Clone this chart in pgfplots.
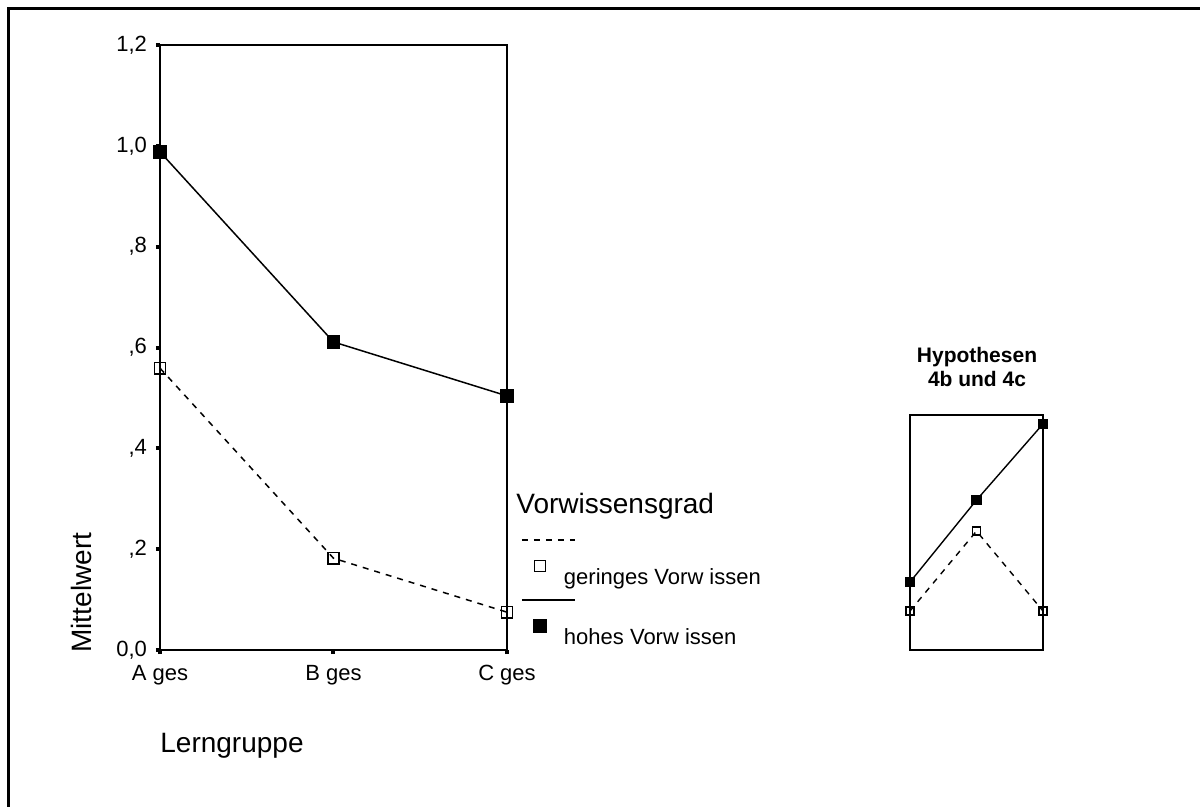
\documentclass[border=0pt]{standalone}
\usepackage{fontspec}
\setmainfont{Liberation Sans}
\usepackage{pgfplots}
\pgfplotsset{compat=1.18}

\begin{document}
\begin{tikzpicture}
  % page is 1200 x 807 px, 1 px = 0.5pt
  \useasboundingbox (0,0) rectangle (600pt,-403.5pt);
  \begin{scope}[x=0.5pt,y=-0.5pt]
    \draw[line width=1.5pt] (8.5,810) -- (8.5,8.5) -- (1210,8.5);
    \node[rotate=90, anchor=base west, inner sep=0pt, font=\fontsize{14}{16}\selectfont] at (91,653) {Mittelwert};
    \node[anchor=base west, inner sep=0pt, font=\fontsize{14}{16}\selectfont] at (160,752) {Lerngruppe};
    \node[anchor=base west, inner sep=0pt, font=\fontsize{14}{16}\selectfont] at (516,514) {Vorwissensgrad};
    \node[anchor=base, inner sep=0pt, font=\bfseries\fontsize{10.5}{12}\selectfont] at (977,363) {Hypothesen};
    \node[anchor=base, inner sep=0pt, font=\bfseries\fontsize{10.5}{12}\selectfont] at (977,387) {4b und 4c};
  \end{scope}

  % main chart
  \begin{axis}[
    at={(80pt,-325pt)}, anchor=south west,
    scale only axis, width=173.5pt, height=302.5pt,
    xmin=0, xmax=2, ymin=0, ymax=1.2,
    axis line style={line width=0.9pt},
    xtick={0,1,2}, xticklabels={A ges, B ges, C ges},
    ytick={0,0.2,0.4,0.6,0.8,1.0,1.2},
    yticklabels={{0,0},{,2},{,4},{,6},{,8},{1,0},{1,2}},
    xtick pos=bottom, ytick pos=left,
    tick align=outside, major tick length=2pt,
    tick style={line width=2pt, black},
    ticklabel style={font=\fontsize{11}{12}\selectfont},
    xticklabel style={yshift=-2pt},
    yticklabel style={xshift=-1pt},
    clip=false,
    legend image code/.code={
      \draw[#1, mark=none, overlay] (-9pt,22.5pt) -- (17.5pt,22.5pt);
      \draw[#1, solid, overlay] plot coordinates {(0pt,9.5pt)};
      \path[draw=none, fill=none] (-3pt,0pt) rectangle (3pt,1pt);
    },
    legend style={draw=none, fill=none, inner sep=0pt, outer sep=0pt,
      at={(1.0778,0.1339)}, anchor=north west,
      row sep=20pt, column sep=9pt,
      nodes={inner sep=0pt, text height=8pt, text depth=2pt, anchor=base west,
        font=\fontsize{11}{12}\selectfont}},
    legend cell align=left,
  ]
    \addplot[black, line width=0.75pt, dashed, mark=square, mark size=2.8pt,
      mark options={solid, fill=white, line width=0.8pt}]
      coordinates {(0,0.559) (1,0.182) (2,0.075)};
    \addlegendentry{geringes Vorw issen}
    \addplot[black, line width=0.75pt, mark=square*, mark size=3pt,
      mark options={solid, fill=black}]
      coordinates {(0,0.988) (1,0.611) (2,0.504)};
    \addlegendentry{hohes Vorw issen}
  \end{axis}

  % small hypothesis chart
  \begin{axis}[
    at={(455pt,-325pt)}, anchor=south west,
    scale only axis, width=66.5pt, height=117.5pt,
    xmin=0, xmax=2, ymin=0, ymax=1,
    axis line style={line width=0.8pt},
    xtick=\empty, ytick=\empty,
    clip=false,
  ]
    \addplot[black, line width=0.7pt, dashed, mark=square, mark size=2pt,
      mark options={solid, fill=white, line width=0.6pt}]
      coordinates {(0,0.166) (1,0.506) (2,0.166)};
    \addplot[black, line width=0.7pt, mark=square*, mark size=2.2pt,
      mark options={solid, fill=black}]
      coordinates {(0,0.289) (1,0.638) (2,0.962)};
  \end{axis}
\end{tikzpicture}
\end{document}
